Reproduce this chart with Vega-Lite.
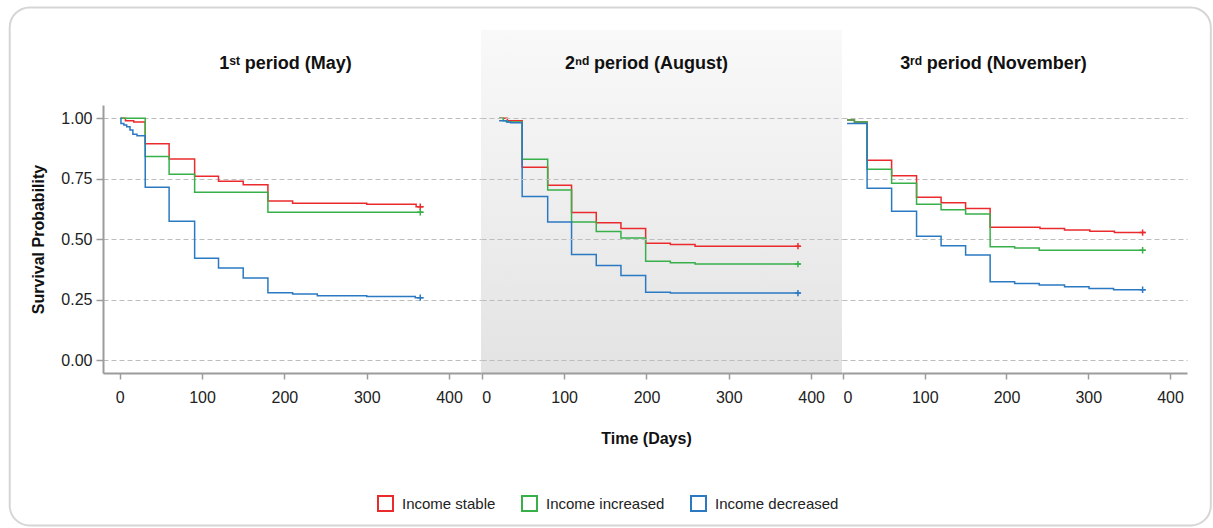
{
  "$schema": "https://vega.github.io/schema/vega-lite/v6.json",
  "background": "white",
  "padding": {"left": 8, "top": 6, "right": 0, "bottom": 0},
  "bounds": "flush",
  "spacing": 0,
  "config": {
    "font": "Liberation Sans",
    "view": {"stroke": null},
    "axis": {
      "domainColor": "#9c9c9c", "domainWidth": 2,
      "tickColor": "#9c9c9c", "tickWidth": 1.5, "tickSize": 6,
      "labelFontSize": 16, "labelColor": "#222222", "labelFont": "Liberation Sans",
      "titleFontSize": 16, "titleFontWeight": "bold", "titleColor": "#111111", "titleFont": "Liberation Sans",
      "gridColor": "#bdbdbd", "gridDash": [5, 3], "gridWidth": 1
    },
    "legend": {"labelFontSize": 15, "labelColor": "#222222", "labelFont": "Liberation Sans"}
  },
  "datasets": {
    "km": [
      {"period": "May", "group": "Income stable", "day": 1, "surv": 1.0},
      {"period": "May", "group": "Income stable", "day": 7, "surv": 0.99},
      {"period": "May", "group": "Income stable", "day": 17, "surv": 0.985},
      {"period": "May", "group": "Income stable", "day": 31, "surv": 0.895},
      {"period": "May", "group": "Income stable", "day": 60, "surv": 0.832},
      {"period": "May", "group": "Income stable", "day": 91, "surv": 0.761},
      {"period": "May", "group": "Income stable", "day": 120, "surv": 0.74},
      {"period": "May", "group": "Income stable", "day": 150, "surv": 0.726},
      {"period": "May", "group": "Income stable", "day": 180, "surv": 0.658},
      {"period": "May", "group": "Income stable", "day": 210, "surv": 0.649},
      {"period": "May", "group": "Income stable", "day": 300, "surv": 0.645},
      {"period": "May", "group": "Income stable", "day": 360, "surv": 0.635},
      {"period": "May", "group": "Income stable", "day": 369, "surv": 0.635},
      {"period": "May", "group": "Income increased", "day": 1, "surv": 1.0},
      {"period": "May", "group": "Income increased", "day": 31, "surv": 0.842},
      {"period": "May", "group": "Income increased", "day": 60, "surv": 0.769},
      {"period": "May", "group": "Income increased", "day": 91, "surv": 0.695},
      {"period": "May", "group": "Income increased", "day": 180, "surv": 0.612},
      {"period": "May", "group": "Income increased", "day": 369, "surv": 0.612},
      {"period": "May", "group": "Income decreased", "day": 1, "surv": 1.0},
      {"period": "May", "group": "Income decreased", "day": 1.5, "surv": 0.979},
      {"period": "May", "group": "Income decreased", "day": 5, "surv": 0.972},
      {"period": "May", "group": "Income decreased", "day": 8.5, "surv": 0.965},
      {"period": "May", "group": "Income decreased", "day": 12.5, "surv": 0.952},
      {"period": "May", "group": "Income decreased", "day": 16, "surv": 0.934},
      {"period": "May", "group": "Income decreased", "day": 21, "surv": 0.928},
      {"period": "May", "group": "Income decreased", "day": 31, "surv": 0.715},
      {"period": "May", "group": "Income decreased", "day": 60, "surv": 0.575},
      {"period": "May", "group": "Income decreased", "day": 91, "surv": 0.422},
      {"period": "May", "group": "Income decreased", "day": 120, "surv": 0.382},
      {"period": "May", "group": "Income decreased", "day": 150, "surv": 0.34},
      {"period": "May", "group": "Income decreased", "day": 180, "surv": 0.279},
      {"period": "May", "group": "Income decreased", "day": 210, "surv": 0.274},
      {"period": "May", "group": "Income decreased", "day": 240, "surv": 0.267},
      {"period": "May", "group": "Income decreased", "day": 300, "surv": 0.264},
      {"period": "May", "group": "Income decreased", "day": 359, "surv": 0.259},
      {"period": "May", "group": "Income decreased", "day": 369, "surv": 0.259},

      {"period": "August", "group": "Income stable", "day": 21, "surv": 1.0},
      {"period": "August", "group": "Income stable", "day": 31, "surv": 0.99},
      {"period": "August", "group": "Income stable", "day": 49, "surv": 0.798},
      {"period": "August", "group": "Income stable", "day": 80, "surv": 0.724},
      {"period": "August", "group": "Income stable", "day": 109, "surv": 0.611},
      {"period": "August", "group": "Income stable", "day": 139, "surv": 0.569},
      {"period": "August", "group": "Income stable", "day": 169, "surv": 0.545},
      {"period": "August", "group": "Income stable", "day": 199, "surv": 0.484},
      {"period": "August", "group": "Income stable", "day": 229, "surv": 0.479},
      {"period": "August", "group": "Income stable", "day": 259, "surv": 0.472},
      {"period": "August", "group": "Income stable", "day": 387, "surv": 0.472},
      {"period": "August", "group": "Income increased", "day": 21, "surv": 1.0},
      {"period": "August", "group": "Income increased", "day": 26, "surv": 0.99},
      {"period": "August", "group": "Income increased", "day": 31, "surv": 0.985},
      {"period": "August", "group": "Income increased", "day": 49, "surv": 0.831},
      {"period": "August", "group": "Income increased", "day": 80, "surv": 0.704},
      {"period": "August", "group": "Income increased", "day": 109, "surv": 0.572},
      {"period": "August", "group": "Income increased", "day": 139, "surv": 0.532},
      {"period": "August", "group": "Income increased", "day": 169, "surv": 0.506},
      {"period": "August", "group": "Income increased", "day": 199, "surv": 0.41},
      {"period": "August", "group": "Income increased", "day": 229, "surv": 0.403},
      {"period": "August", "group": "Income increased", "day": 259, "surv": 0.398},
      {"period": "August", "group": "Income increased", "day": 387, "surv": 0.398},
      {"period": "August", "group": "Income decreased", "day": 21, "surv": 0.99},
      {"period": "August", "group": "Income decreased", "day": 30, "surv": 0.985},
      {"period": "August", "group": "Income decreased", "day": 35, "surv": 0.982},
      {"period": "August", "group": "Income decreased", "day": 49, "surv": 0.677},
      {"period": "August", "group": "Income decreased", "day": 80, "surv": 0.572},
      {"period": "August", "group": "Income decreased", "day": 109, "surv": 0.437},
      {"period": "August", "group": "Income decreased", "day": 139, "surv": 0.392},
      {"period": "August", "group": "Income decreased", "day": 169, "surv": 0.351},
      {"period": "August", "group": "Income decreased", "day": 199, "surv": 0.282},
      {"period": "August", "group": "Income decreased", "day": 229, "surv": 0.278},
      {"period": "August", "group": "Income decreased", "day": 387, "surv": 0.278},

      {"period": "November", "group": "Income stable", "day": 5, "surv": 0.993},
      {"period": "November", "group": "Income stable", "day": 14, "surv": 0.985},
      {"period": "November", "group": "Income stable", "day": 29.5, "surv": 0.827},
      {"period": "November", "group": "Income stable", "day": 59.5, "surv": 0.763},
      {"period": "November", "group": "Income stable", "day": 90, "surv": 0.674},
      {"period": "November", "group": "Income stable", "day": 120, "surv": 0.651},
      {"period": "November", "group": "Income stable", "day": 150, "surv": 0.627},
      {"period": "November", "group": "Income stable", "day": 180, "surv": 0.55},
      {"period": "November", "group": "Income stable", "day": 241, "surv": 0.545},
      {"period": "November", "group": "Income stable", "day": 271, "surv": 0.539},
      {"period": "November", "group": "Income stable", "day": 302, "surv": 0.534},
      {"period": "November", "group": "Income stable", "day": 332, "surv": 0.528},
      {"period": "November", "group": "Income stable", "day": 370, "surv": 0.528},
      {"period": "November", "group": "Income increased", "day": 5, "surv": 0.993},
      {"period": "November", "group": "Income increased", "day": 14, "surv": 0.985},
      {"period": "November", "group": "Income increased", "day": 29.5, "surv": 0.79},
      {"period": "November", "group": "Income increased", "day": 59.5, "surv": 0.732},
      {"period": "November", "group": "Income increased", "day": 90, "surv": 0.645},
      {"period": "November", "group": "Income increased", "day": 120, "surv": 0.622},
      {"period": "November", "group": "Income increased", "day": 150, "surv": 0.605},
      {"period": "November", "group": "Income increased", "day": 180, "surv": 0.47},
      {"period": "November", "group": "Income increased", "day": 210, "surv": 0.464},
      {"period": "November", "group": "Income increased", "day": 240, "surv": 0.455},
      {"period": "November", "group": "Income increased", "day": 370, "surv": 0.455},
      {"period": "November", "group": "Income decreased", "day": 5, "surv": 0.979},
      {"period": "November", "group": "Income decreased", "day": 29.5, "surv": 0.711},
      {"period": "November", "group": "Income decreased", "day": 59.5, "surv": 0.616},
      {"period": "November", "group": "Income decreased", "day": 90, "surv": 0.513},
      {"period": "November", "group": "Income decreased", "day": 120, "surv": 0.474},
      {"period": "November", "group": "Income decreased", "day": 150, "surv": 0.435},
      {"period": "November", "group": "Income decreased", "day": 180, "surv": 0.325},
      {"period": "November", "group": "Income decreased", "day": 210, "surv": 0.318},
      {"period": "November", "group": "Income decreased", "day": 240, "surv": 0.312},
      {"period": "November", "group": "Income decreased", "day": 271, "surv": 0.304},
      {"period": "November", "group": "Income decreased", "day": 301, "surv": 0.297},
      {"period": "November", "group": "Income decreased", "day": 331, "surv": 0.292},
      {"period": "November", "group": "Income decreased", "day": 370, "surv": 0.292}
    ],
    "cens": [
      {"period": "May", "group": "Income stable", "day": 365, "surv": 0.635},
      {"period": "May", "group": "Income increased", "day": 365, "surv": 0.612},
      {"period": "May", "group": "Income decreased", "day": 365, "surv": 0.259},
      {"period": "August", "group": "Income stable", "day": 384, "surv": 0.472},
      {"period": "August", "group": "Income increased", "day": 384, "surv": 0.398},
      {"period": "August", "group": "Income decreased", "day": 384, "surv": 0.278},
      {"period": "November", "group": "Income stable", "day": 366.5, "surv": 0.528},
      {"period": "November", "group": "Income increased", "day": 366.5, "surv": 0.455},
      {"period": "November", "group": "Income decreased", "day": 366.5, "surv": 0.292}
    ]
  },
  "resolve": {"scale": {"x": "independent", "y": "independent", "color": "shared"}},
  "hconcat": [
    {
      "width": 378, "height": 268,
      "resolve": {"axis": {"x": "independent"}},
      "layer": [
        {
          "data": {"values": [{}]},
          "mark": {"type": "rect", "fill": "white", "fillOpacity": 0, "stroke": "#d6d6d6", "strokeWidth": 2, "cornerRadius": 20},
          "encoding": {
            "x": {"datum": -133.6, "type": "quantitative", "axis": null, "scale": {"domain": [-20.3, 438.8], "nice": false, "zero": false}},
            "x2": {"datum": 1325.2},
            "y": {"datum": 1.458, "type": "quantitative", "scale": {"domain": [-0.052, 1.055], "nice": false, "zero": false}},
            "y2": {"datum": -0.682}
          }
        },
        {
          "data": {"name": "km"},
          "transform": [{"filter": "datum.period === 'May'"}],
          "mark": {"type": "line", "interpolate": "step-after", "strokeWidth": 1.5},
          "encoding": {
            "x": {"field": "day", "type": "quantitative", "scale": {"domain": [-20.3, 438.8], "nice": false, "zero": false},
                  "axis": {"orient": "bottom", "values": [0, 100, 200, 300, 400], "title": null, "labelPadding": 10, "grid": false}},
            "y": {"field": "surv", "type": "quantitative", "scale": {"domain": [-0.052, 1.055], "nice": false, "zero": false},
                  "axis": {"values": [0, 0.25, 0.5, 0.75, 1], "format": ".2f", "title": "Survival Probability", "grid": true, "tickSize": 7, "labelPadding": 4, "titlePadding": 14}},
            "color": {"field": "group", "type": "nominal",
                      "scale": {"domain": ["Income stable", "Income increased", "Income decreased"], "range": ["#ea2a2d", "#38b04a", "#2a79c2"]},
                      "legend": {"orient": "none", "legendX": 274, "legendY": 390, "direction": "horizontal", "title": null,
                                 "symbolType": "square", "symbolSize": 225, "symbolStrokeWidth": 2, "symbolFillColor": "white", "symbolOpacity": 1,
                                 "labelOffset": 8, "columnPadding": 22}}
          }
        },
        {
          "data": {"name": "cens"},
          "transform": [{"filter": "datum.period === 'May'"}],
          "mark": {"type": "point", "shape": "M-1,0L1,0M0,-1L0,1", "filled": false, "strokeWidth": 1.5, "size": 40, "opacity": 1},
          "encoding": {
            "x": {"field": "day", "type": "quantitative",
                  "axis": {"orient": "top", "title": "1ˢᵗ period (May)", "labels": false, "ticks": false, "domain": false, "grid": false,
                           "titleX": 182, "titleY": -37, "titleBaseline": "alphabetic", "titleFontSize": 18, "titleAngle": 0}},
            "y": {"field": "surv", "type": "quantitative"},
            "color": {"field": "group", "type": "nominal"}
          }
        }
      ]
    },
    {
      "width": 361, "height": 268,
      "resolve": {"axis": {"x": "independent"}},
      "layer": [
        {
          "data": {"values": [{}]},
          "mark": {"type": "rect", "color": {"gradient": "linear", "x1": 0, "y1": 0, "x2": 0, "y2": 1,
                   "stops": [{"offset": 0, "color": "#f9f9f9"}, {"offset": 1, "color": "#e3e3e3"}]}},
          "encoding": {
            "x": {"datum": -1, "type": "quantitative", "axis": null, "scale": {"domain": [-1, 437.5], "nice": false, "zero": false}},
            "x2": {"datum": 437.5},
            "y": {"datum": 1.365, "type": "quantitative", "scale": {"domain": [-0.052, 1.055], "nice": false, "zero": false}},
            "y2": {"datum": -0.052}
          }
        },
        {
          "data": {"name": "km"},
          "transform": [{"filter": "datum.period === 'August'"}],
          "mark": {"type": "line", "interpolate": "step-after", "strokeWidth": 1.5},
          "encoding": {
            "x": {"field": "day", "type": "quantitative", "scale": {"domain": [-1, 437.5], "nice": false, "zero": false},
                  "axis": {"orient": "bottom", "values": [0, 100, 200, 300, 400], "title": "Time (Days)", "titleX": 165, "titleY": 57, "titleBaseline": "top", "labelPadding": 10, "grid": false, "zindex": 1}},
            "y": {"field": "surv", "type": "quantitative", "scale": {"domain": [-0.052, 1.055], "nice": false, "zero": false},
                  "axis": {"values": [0, 0.25, 0.5, 0.75, 1], "title": null, "labels": false, "ticks": false, "domain": false, "grid": true, "zindex": 1}},
            "color": {"field": "group", "type": "nominal"}
          }
        },
        {
          "data": {"name": "cens"},
          "transform": [{"filter": "datum.period === 'August'"}],
          "mark": {"type": "point", "shape": "M-1,0L1,0M0,-1L0,1", "filled": false, "strokeWidth": 1.5, "size": 40, "opacity": 1},
          "encoding": {
            "x": {"field": "day", "type": "quantitative",
                  "axis": {"orient": "top", "title": "2ⁿᵈ period (August)", "labels": false, "ticks": false, "domain": false, "grid": false,
                           "titleX": 165, "titleY": -37, "titleBaseline": "alphabetic", "titleFontSize": 18, "titleAngle": 0, "zindex": 1}},
            "y": {"field": "surv", "type": "quantitative"},
            "color": {"field": "group", "type": "nominal"}
          }
        }
      ]
    },
    {
      "width": 345, "height": 268,
      "resolve": {"axis": {"x": "independent"}},
      "layer": [
        {
          "data": {"name": "km"},
          "transform": [{"filter": "datum.period === 'November'"}],
          "mark": {"type": "line", "interpolate": "step-after", "strokeWidth": 1.5},
          "encoding": {
            "x": {"field": "day", "type": "quantitative", "scale": {"domain": [-1.2, 420.8], "nice": false, "zero": false},
                  "axis": {"orient": "bottom", "values": [0, 100, 200, 300, 400], "title": null, "labelPadding": 10, "grid": false}},
            "y": {"field": "surv", "type": "quantitative", "scale": {"domain": [-0.052, 1.055], "nice": false, "zero": false},
                  "axis": {"values": [0, 0.25, 0.5, 0.75, 1], "title": null, "labels": false, "ticks": false, "domain": false, "grid": true}},
            "color": {"field": "group", "type": "nominal"}
          }
        },
        {
          "data": {"name": "cens"},
          "transform": [{"filter": "datum.period === 'November'"}],
          "mark": {"type": "point", "shape": "M-1,0L1,0M0,-1L0,1", "filled": false, "strokeWidth": 1.5, "size": 40, "opacity": 1},
          "encoding": {
            "x": {"field": "day", "type": "quantitative",
                  "axis": {"orient": "top", "title": "3ʳᵈ period (November)", "labels": false, "ticks": false, "domain": false, "grid": false,
                           "titleX": 151, "titleY": -37, "titleBaseline": "alphabetic", "titleFontSize": 18, "titleAngle": 0}},
            "y": {"field": "surv", "type": "quantitative"},
            "color": {"field": "group", "type": "nominal"}
          }
        }
      ]
    }
  ]
}
